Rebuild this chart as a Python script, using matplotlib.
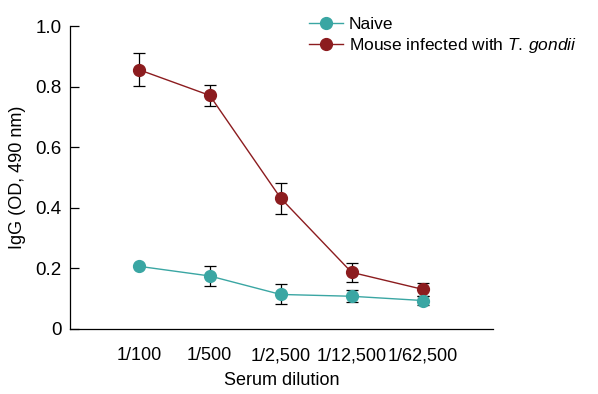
import numpy as np
import matplotlib
matplotlib.use("Agg")
import matplotlib.pyplot as plt
from matplotlib.lines import Line2D

plt.rcParams["font.family"] = ["Liberation Sans", "DejaVu Sans"]
plt.rcParams["mathtext.fontset"] = "custom"
plt.rcParams["mathtext.it"] = "Liberation Sans:italic"
plt.rcParams["mathtext.rm"] = "Liberation Sans"

# ── data ────────────────────────────────────────────────────────────────────
dilutions = ["1/100", "1/500", "1/2,500", "1/12,500", "1/62,500"]

naive_mean = [0.207, 0.175, 0.114, 0.108, 0.094]
naive_err = [0.0, 0.034, 0.033, 0.02, 0.016]

infected_mean = [0.856, 0.771, 0.432, 0.187, 0.131]
infected_err = [0.055, 0.034, 0.051, 0.031, 0.022]

yticks = [0, 0.2, 0.4, 0.6, 0.8, 1.0]
ytick_labels = ["0", "0.2", "0.4", "0.6", "0.8", "1.0"]

TEAL = "#3aa6a3"
DARK_RED = "#8c1c1f"
FS = 13

# ── figure ──────────────────────────────────────────────────────────────────
fig = plt.figure(figsize=(5.98, 3.94), dpi=100)
ax = fig.add_axes([0.117, 0.165, 0.707, 0.769])

x = np.arange(len(dilutions))

ax.errorbar(x, infected_mean, yerr=infected_err, color=DARK_RED,
            lw=1.0, marker="o", ms=8.5, mec=DARK_RED, mfc=DARK_RED,
            ecolor="black", elinewidth=0.9, capsize=4, capthick=0.9, zorder=3)
ax.errorbar(x, naive_mean, yerr=naive_err, color=TEAL,
            lw=1.0, marker="o", ms=8.5, mec=TEAL, mfc=TEAL,
            ecolor="black", elinewidth=0.9, capsize=4, capthick=0.9, zorder=4)

ax.set_xlim(-0.97, 4.99)
ax.set_ylim(0, 1.0)
ax.set_xticks(x)
ax.set_xticklabels(dilutions, fontsize=FS)
ax.set_yticks(yticks)
ax.set_yticklabels(ytick_labels, fontsize=13.5)
ax.tick_params(axis="x", length=0, pad=13)
ax.tick_params(axis="y", direction="in", length=6.5, width=0.9, pad=6)

for s in ["top", "right"]:
    ax.spines[s].set_visible(False)
for s in ["left", "bottom"]:
    ax.spines[s].set_linewidth(0.9)

ax.set_xlabel("Serum dilution", fontsize=FS, labelpad=6)
ax.set_ylabel("IgG (OD, 490 nm)", fontsize=FS, labelpad=7)

# legend handles without error bars
h_nai = Line2D([], [], color=TEAL, lw=1.0, marker="o", ms=8.5, mfc=TEAL, mec=TEAL)
h_inf = Line2D([], [], color=DARK_RED, lw=1.0, marker="o", ms=8.5,
               mfc=DARK_RED, mec=DARK_RED)
fig.legend([h_nai, h_inf],
           ["Naive", r"Mouse infected with $\it{T.\,gondii}$"],
           loc="upper left", bbox_to_anchor=(0.496, 0.988),
           frameon=False, fontsize=12.5, handlelength=2.0,
           handletextpad=0.3, labelspacing=0.22, borderaxespad=0.3)

fig.savefig("out.png", dpi=100)
